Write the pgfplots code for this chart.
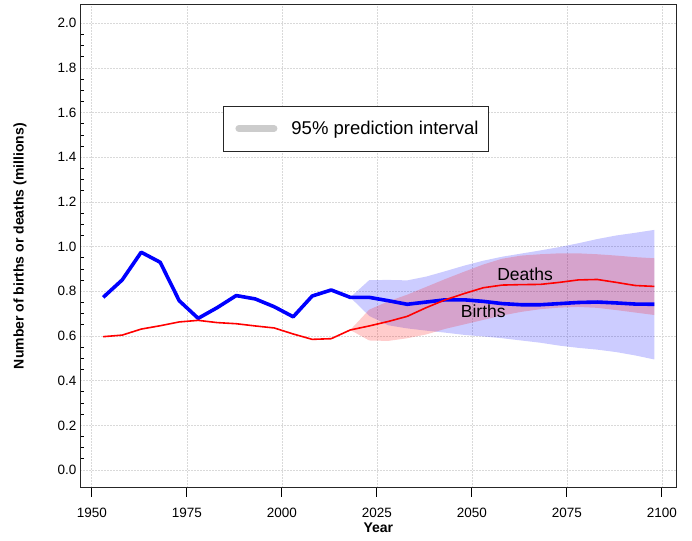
\documentclass[border=0pt]{standalone}
\usepackage{pgfplots}
\pgfplotsset{compat=1.18}
\usepackage{pgfplotstable}
\usepgfplotslibrary{fillbetween}
\usepackage{fontspec}
\setmainfont{Liberation Sans}

% births and deaths, millions
\pgfplotstableread{
year births deaths
1953 0.773 0.597
1958 0.851 0.604
1963 0.975 0.631
1968 0.930 0.646
1973 0.758 0.663
1978 0.679 0.670
1983 0.727 0.660
1988 0.781 0.655
1993 0.766 0.645
1998 0.731 0.636
2003 0.686 0.609
2008 0.779 0.585
2013 0.806 0.588
2018 0.773 0.627
2023 0.773 0.645
2028 0.758 0.665
2033 0.742 0.688
2038 0.752 0.727
2043 0.762 0.762
2048 0.762 0.790
2053 0.755 0.816
2058 0.745 0.828
2063 0.740 0.830
2068 0.740 0.831
2073 0.745 0.840
2078 0.750 0.851
2083 0.752 0.853
2088 0.748 0.840
2093 0.743 0.826
2098 0.742 0.822
}\mainseries

% 95% prediction intervals
\pgfplotstableread{
year blo bhi dlo dhi
2018 0.773 0.773 0.627 0.627
2023 0.690 0.850 0.580 0.718
2028 0.648 0.851 0.578 0.755
2033 0.634 0.849 0.590 0.785
2038 0.624 0.866 0.607 0.820
2043 0.615 0.890 0.632 0.855
2048 0.605 0.915 0.652 0.888
2053 0.598 0.937 0.672 0.920
2058 0.590 0.955 0.692 0.946
2063 0.580 0.969 0.708 0.960
2068 0.570 0.983 0.720 0.966
2073 0.557 0.998 0.727 0.970
2078 0.547 1.015 0.730 0.970
2083 0.539 1.034 0.726 0.966
2088 0.528 1.050 0.716 0.960
2093 0.513 1.062 0.705 0.953
2098 0.495 1.075 0.694 0.948
}\bands

\begin{document}
\begin{tikzpicture}
\begin{axis}[
	scale only axis,
	width=596.7pt, height=483pt,
	xmin=1946.9, xmax=2103.9,
	ymin=-0.079, ymax=2.083,
	axis line style={black!85, line width=0.8pt},
	xtick={1950,1975,...,2100},
	ytick={0,0.2,...,2.0},
	minor y tick num=3,
	xtick pos=bottom, ytick pos=left,
	xtick align=outside, ytick align=inside,
	major tick length=9pt, minor tick length=4pt,
	major y tick style={draw=none},
	tick style={black, line width=0.8pt},
	grid=major,
	grid style={black!15, dash pattern=on 1.5pt off 1.5pt, line width=0.6pt},
	/pgf/number format/assume math mode=true,
	xticklabel style={font=\fontsize{13.5}{15}\selectfont, yshift=-8pt, /pgf/number format/1000 sep={}},
	yticklabel style={font=\fontsize{13.5}{15}\selectfont, /pgf/number format/fixed, /pgf/number format/fixed zerofill, /pgf/number format/precision=1},
	xlabel={\textbf{Year}},
	ylabel={\textbf{Number of births or deaths (millions)}},
	xlabel style={font=\fontsize{14}{16}\selectfont, at={(axis description cs:0.5,-0.0828)}, anchor=center},
	ylabel style={font=\fontsize{14}{16}\selectfont, at={(axis description cs:-0.1006,0.5)}, anchor=center},
	legend style={at={(axis description cs:0.2397,0.791)}, anchor=north west,
		draw=black!85, line width=0.8pt, font=\fontsize{18.5}{20}\selectfont,
		inner xsep=8pt, inner ysep=13pt},
	legend image code/.code={\path (-4pt,0pt) (47pt,0pt); \draw[#1] (0pt,0pt) -- (35pt,0pt);},
]
\addlegendimage{line width=7pt, black!20, line cap=round}
\addlegendentry{95\% prediction interval}

\addplot[name path=blo, draw=none, forget plot] table[x=year, y=blo] {\bands};
\addplot[name path=bhi, draw=none, forget plot] table[x=year, y=bhi] {\bands};
\addplot[blue, fill opacity=0.2, forget plot] fill between[of=blo and bhi];

\addplot[name path=dlo, draw=none, forget plot] table[x=year, y=dlo] {\bands};
\addplot[name path=dhi, draw=none, forget plot] table[x=year, y=dhi] {\bands};
\addplot[red, fill opacity=0.2, forget plot] fill between[of=dlo and dhi];

\addplot[blue, line width=3.6pt, line join=round, forget plot] table[x=year, y=births] {\mainseries};
\addplot[red, line width=1.6pt, line join=round, forget plot] table[x=year, y=deaths] {\mainseries};

\node[font=\fontsize{17.5}{19}\selectfont] at (axis cs:2064,0.876) {Deaths};
\node[font=\fontsize{17.5}{19}\selectfont] at (axis cs:2053,0.712) {Births};
\end{axis}
\useasboundingbox (-80pt,-52.3pt) rectangle (612pt,487.7pt);
\end{tikzpicture}
\end{document}
